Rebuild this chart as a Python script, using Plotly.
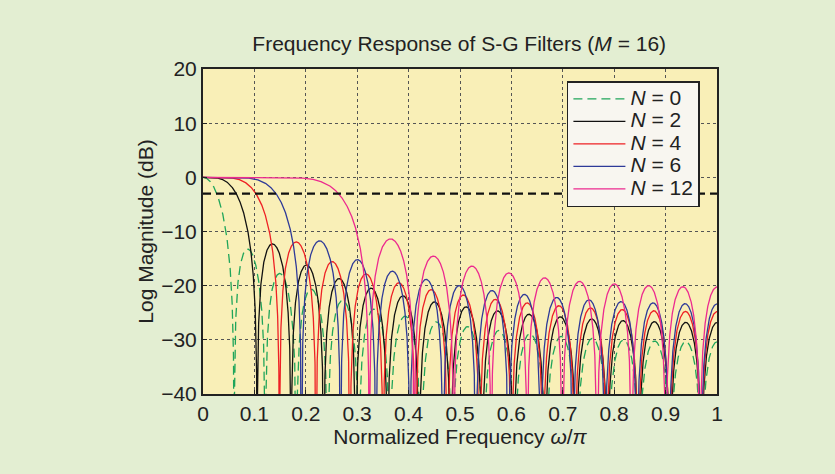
import numpy as np
import plotly.graph_objects as go

# Savitzky-Golay filter parameters shown in the chart
half_width_M = 16
orders_N = [0, 2, 4, 6, 12]
series_labels = ["N = 0", "N = 2", "N = 4", "N = 6", "N = 12"]
series_colors = ["#1fa55a", "#111111", "#ee2024", "#2e3a98", "#ec2a8f"]
series_dash = ["9px,5px", "solid", "solid", "solid", "solid"]
x_ticks = [0, 0.1, 0.2, 0.3, 0.4, 0.5, 0.6, 0.7, 0.8, 0.9, 1]
y_ticks = [20, 10, 0, -10, -20, -30, -40]
cutoff_db = -3

freq = np.linspace(0, 1, 6001)  # normalized frequency omega/pi


def sg_response_db(M, N, w):
    n = np.arange(-M, M + 1)
    A = np.vander(n, N + 1, increasing=True).astype(float)
    h = (A @ np.linalg.inv(A.T @ A))[:, 0]
    H = np.exp(-1j * np.pi * np.outer(w, n)) @ h
    mag = np.abs(H)
    with np.errstate(divide="ignore"):
        db = 20 * np.log10(mag)
    db[~np.isfinite(db)] = -120
    return np.maximum(db, -120)


def legend_label(lbl):
    sym, rest = lbl.split(" ", 1)
    return f"<span style='font-size:21px'><i>{sym}</i> {rest}</span>"


fig = go.Figure()
for N, lbl, col, dash in zip(orders_N, series_labels, series_colors, series_dash):
    fig.add_trace(go.Scatter(
        x=freq, y=sg_response_db(half_width_M, N, freq), mode="lines",
        name=legend_label(lbl),
        line=dict(color=col, width=1.3, dash=dash),
    ))

fig.add_shape(type="line", xref="x", yref="y", x0=0, x1=1, y0=cutoff_db, y1=cutoff_db,
              line=dict(color="#111111", width=2.2, dash="8px,5px"), layer="above")

font = "Liberation Sans, Arial, sans-serif"
fs = 21
axis_common = dict(
    showline=True, linecolor="#222222", linewidth=2, mirror=True,
    ticks="inside", ticklen=4, tickcolor="#222222",
    showgrid=True, gridcolor="#555555", griddash="dot", gridwidth=1,
    zeroline=False, tickfont=dict(size=fs, color="#222222", family=font),
)

fig.update_layout(
    width=835, height=474,
    paper_bgcolor="#e3eed2", plot_bgcolor="#f9efb7",
    margin=dict(l=203, r=118, t=69, b=80),
    title=dict(text="Frequency Response of S-G Filters (<i>M</i> = 16)",
               x=0.55, xanchor="center", y=0.907, yanchor="middle",
               font=dict(size=fs, color="#222222", family=font)),
    xaxis=dict(range=[0, 1], tickvals=x_ticks, ticktext=[f"{v:g}" for v in x_ticks],
               title=dict(text="Normalized Frequency <i>ω</i>/<i>π</i>", standoff=4,
                          font=dict(size=fs, color="#222222", family=font)),
               **axis_common),
    yaxis=dict(range=[-40, 20], tickvals=y_ticks,
               ticktext=[("\u2212" + str(-v)) if v < 0 else str(v) for v in y_ticks],
               title=dict(text="Log Magnitude (dB)", standoff=2,
                          font=dict(size=fs, color="#222222", family=font)),
               **axis_common),
    legend=dict(x=0.708, y=0.963, xanchor="left", yanchor="top",
                bgcolor="#f8f6f0", bordercolor="#222222", borderwidth=1.5,
                font=dict(size=15, color="#222222", family=font),
                tracegroupgap=0, itemwidth=52),
    showlegend=True,
)

fig.write_html("out.html")
